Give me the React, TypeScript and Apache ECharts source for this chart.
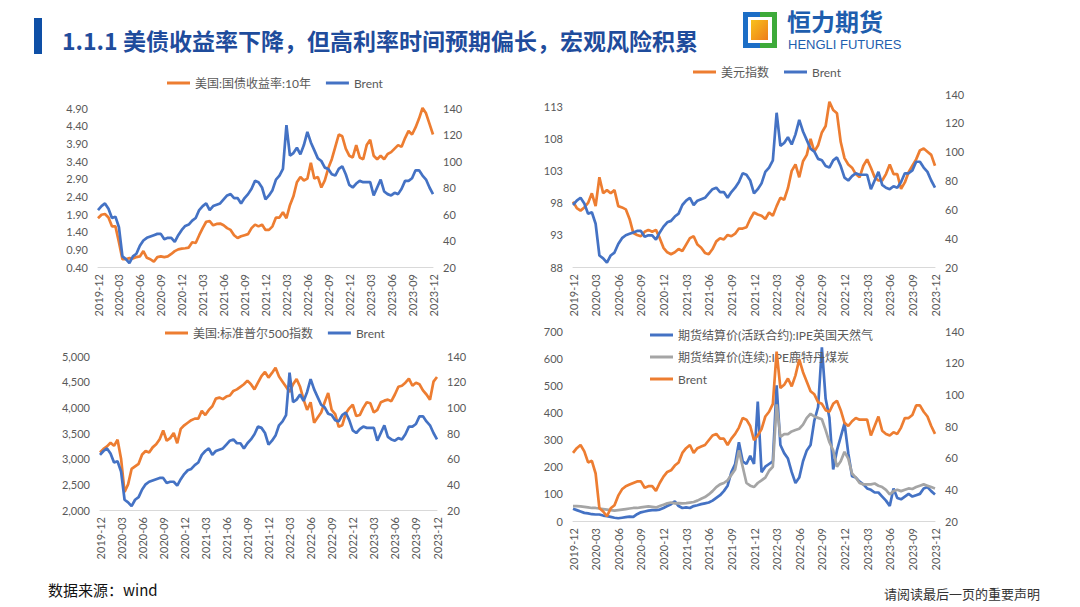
import React, { useEffect, useRef } from "react";
import * as echarts from "echarts";

// ---- categories (semi-monthly observation dates) ----
const dates: string[] = [];
for (let y = 2019; y <= 2023; y++) {
  for (let m = 1; m <= 12; m++) {
    if (y === 2019 && m < 12) continue;
    const mm = String(m).padStart(2, "0");
    dates.push(`${y}-${mm}-01`);
    if (!(y === 2023 && m === 12)) dates.push(`${y}-${mm}-16`);
  }
}

// ---- series values ----
const brent = [
  63, 66,
  68, 64, 57, 58, 50, 28, 26, 23, 28, 30, 36, 40, 42, 43, 44, 45, 45, 41, 42, 42, 39, 44, 48, 51,
  52, 55, 57, 63, 66, 68, 63, 66, 67, 68, 71, 74, 75, 72, 72, 68, 72, 75, 79, 85, 84, 80, 71, 74,
  78, 86, 89, 94, 127, 104, 106, 110, 105, 112, 122, 114, 108, 102, 100, 95, 94, 90, 89, 94, 96, 90, 82, 80,
  83, 85, 84, 84, 84, 74, 80, 86, 77, 75, 74, 76, 75, 79, 85, 85, 87, 93, 93, 89, 86, 80,
  75,
];

const us10y = [
  1.78, 1.88,
  1.9, 1.8, 1.55, 1.55, 1.1, 0.62, 0.62, 0.65, 0.64, 0.68, 0.7, 0.85, 0.66, 0.62, 0.55, 0.68, 0.7, 0.68, 0.7, 0.77, 0.85, 0.9, 0.92, 0.93,
  0.95, 1.1, 1.08, 1.3, 1.5, 1.68, 1.7, 1.58, 1.62, 1.63, 1.58, 1.5, 1.45, 1.3, 1.22, 1.27, 1.3, 1.33, 1.5, 1.6, 1.55, 1.6, 1.45, 1.45,
  1.55, 1.8, 1.8, 1.95, 1.78, 2.15, 2.4, 2.8, 2.95, 2.85, 2.9, 3.35, 2.9, 2.95, 2.65, 2.85, 3.2, 3.45, 3.8, 4.15, 4.1, 3.75, 3.55, 3.5,
  3.85, 3.5, 3.45, 3.85, 4.0, 3.55, 3.45, 3.55, 3.45, 3.6, 3.65, 3.75, 3.85, 3.8, 4.05, 4.25, 4.15, 4.35, 4.6, 4.9, 4.75, 4.45,
  4.15,
];

const dxy = [
  98.2, 97.2,
  96.8, 97.3, 98.0, 99.5, 97.5, 102.0, 99.5, 100.0, 99.5, 100.0, 97.5, 97.3, 97.0, 95.5, 93.3, 93.0, 92.8, 93.5, 93.8, 93.5, 93.8, 92.5, 91.0, 90.3,
  90.0, 90.3, 90.8, 90.5, 91.5, 92.5, 92.8, 91.5, 91.0, 90.2, 90.0, 90.8, 92.0, 92.5, 92.3, 93.0, 92.8, 93.2, 94.0, 94.0, 94.2, 95.5, 96.5, 96.2,
  96.0, 95.5, 96.5, 96.0, 97.5, 98.8, 98.5, 100.3, 103.0, 104.0, 102.0, 104.5, 105.5, 108.0, 106.0, 107.0, 109.0, 110.0, 113.8, 112.5, 112.0, 107.5, 105.0, 104.0,
  103.5, 102.5, 102.0, 103.8, 104.8, 103.5, 102.0, 101.5, 101.5, 102.5, 104.0, 102.5, 102.5, 100.2, 101.2, 102.8, 103.8, 104.8, 106.2, 106.5, 106.0, 105.5,
  103.8,
];

const spx = [
  3120, 3190,
  3240, 3310, 3250, 3370, 3000, 2350, 2500, 2800, 2850, 2900, 3080, 3150, 3120, 3220, 3280, 3380, 3550, 3350, 3400, 3500, 3300, 3580, 3650, 3700,
  3750, 3780, 3780, 3930, 3850, 3950, 4020, 4170, 4190, 4160, 4210, 4230, 4320, 4350, 4400, 4450, 4520, 4450, 4350, 4480, 4610, 4690, 4580, 4670,
  4770, 4600, 4500, 4400, 4300, 4450, 4550, 4400, 4150, 3950, 4100, 3700, 3800, 3900, 4100, 4280, 3950, 3870, 3620, 3650, 3880, 3980, 4050, 3830,
  3850, 3990, 4100, 4080, 3900, 3950, 4100, 4130, 4150, 4120, 4250, 4400, 4420, 4480, 4560, 4420, 4480, 4450, 4330, 4250, 4150, 4500,
  4590,
];

const ukGas = [
  45, 40,
  35, 30, 28, 25, 24, 24, 20, 18, 15, 12, 10, 12, 14, 16, 15, 25, 32, 35, 38, 40, 40, 42, 48, 55,
  62, 72, 55, 48, 50, 48, 55, 58, 62, 65, 68, 75, 85, 95, 110, 130, 180, 210, 290, 220, 210, 240, 210, 440,
  180, 200, 210, 220, 500, 280, 250, 230, 180, 140, 160, 220, 260, 280, 370, 420, 640, 450, 380, 190, 260, 310, 360, 250,
  165, 160, 145, 135, 120, 115, 105, 105, 90, 75, 55, 120, 85, 80, 90, 100, 90, 95, 100, 120, 125, 110,
  98,
];

const coal = [
  55, 55,
  54, 52, 50, 48, 48, 46, 44, 42, 40, 38, 40, 42, 44, 46, 48, 48, 50, 52, 54, 52, 50, 55, 60, 65,
  68, 65, 66, 65, 66, 68, 70, 75, 82, 88, 98, 110, 125, 135, 140, 150, 170, 190, 260, 200, 140, 130, 125, 140,
  150, 160, 185, 200, 430, 310, 320, 320, 330, 335, 340, 355, 380, 395, 385, 380, 375, 335, 290, 260, 200, 220, 255, 230,
  175, 160, 140, 135, 135, 135, 138, 130, 125, 115, 98, 110, 115, 110, 115, 120, 118, 125, 130, 135, 130, 125,
  120,
];

const xTickLabels = [
  "2019-12", "2020-03", "2020-06", "2020-09", "2020-12", "2021-03", "2021-06", "2021-09",
  "2021-12", "2022-03", "2022-06", "2022-09", "2022-12", "2023-03", "2023-06", "2023-09", "2023-12",
];

const NAME_UST = "美国:国债收益率:10年";
const NAME_DXY = "美元指数";
const NAME_SPX = "美国:标准普尔500指数";
const NAME_GAS = "期货结算价(活跃合约):IPE英国天然气";
const NAME_COAL = "期货结算价(连续):IPE鹿特丹煤炭";
const NAME_BRENT = "Brent";

const TITLE = "1.1.1 美债收益率下降，但高利率时间预期偏长，宏观风险积累";
const SOURCE = "数据来源：wind";
const DISCLAIMER = "请阅读最后一页的重要声明";

const ORANGE = "#ED7D31";
const BLUE = "#4472C4";
const GRAY = "#A5A5A5";
const LABEL = "#595959";
const FONT = "Lato, 'Noto Sans CJK SC', sans-serif";

function xAxis(gridIndex: number) {
  return {
    type: "category",
    gridIndex,
    data: dates,
    boundaryGap: false,
    axisLine: { show: true, lineStyle: { color: "#D9D9D9", width: 1 } },
    axisTick: { show: false },
    splitLine: { show: false },
    axisLabel: {
      rotate: 90,
      interval: (_i: number, v: string) => v.endsWith("-01") && xTickLabels.includes(v.slice(0, 7)),
      formatter: (v: string) => v.slice(0, 7),
      color: LABEL,
      fontSize: 11,
      fontFamily: FONT,
      margin: 7,
    },
  };
}

function yAxis(gridIndex: number, position: string, min: number, max: number, interval: number, formatter: (v: number) => string) {
  return {
    type: "value",
    gridIndex,
    position,
    min,
    max,
    interval,
    axisLine: { show: false },
    axisTick: { show: false },
    splitLine: { show: false },
    axisLabel: { formatter, color: LABEL, fontSize: 11, fontFamily: FONT, margin: 10 },
  };
}

function line(name: string, xi: number, yi: number, data: number[], color: string, z: number) {
  return {
    name,
    type: "line",
    xAxisIndex: xi,
    yAxisIndex: yi,
    data,
    symbol: "none",
    showSymbol: false,
    silent: true,
    z,
    lineStyle: { width: 2.7, color },
    itemStyle: { color },
  };
}

function legend(left: number, top: number, items: { name: string; color: string }[], orient = "horizontal", itemGap = 15) {
  return {
    left,
    top,
    orient,
    icon: "rect",
    itemWidth: 23,
    itemHeight: 3,
    itemGap,
    selectedMode: false,
    textStyle: { color: LABEL, fontSize: 12, fontFamily: FONT },
    data: items.map((it) => ({ name: it.name, itemStyle: { color: it.color } })),
  };
}

const intFmt = (v: number) => String(Math.round(v));
const rightFmt = (v: number) => String(Math.round(v));

export default function App() {
  const ref = useRef<HTMLDivElement>(null);

  useEffect(() => {
    if (!ref.current) return;
    const chart = echarts.init(ref.current, undefined, { renderer: "svg" });
    chart.setOption({
      animation: false,
      backgroundColor: "#ffffff",
      grid: [
        { left: 98, top: 108, width: 335, height: 159 },
        { left: 573, top: 94, width: 362, height: 173 },
        { left: 100, top: 356, width: 337, height: 154 },
        { left: 573, top: 331, width: 362, height: 190 },
      ],
      xAxis: [xAxis(0), xAxis(1), xAxis(2), xAxis(3)],
      yAxis: [
        yAxis(0, "left", 0.4, 4.9, 0.5, (v) => v.toFixed(2)),
        yAxis(0, "right", 20, 140, 20, rightFmt),
        yAxis(1, "left", 88, 115, 5, (v) => (v > 114 ? "" : intFmt(v))),
        yAxis(1, "right", 20, 140, 20, rightFmt),
        yAxis(2, "left", 2000, 5000, 500, (v) => Math.round(v).toLocaleString("en-US")),
        yAxis(2, "right", 20, 140, 20, rightFmt),
        yAxis(3, "left", 0, 700, 100, intFmt),
        yAxis(3, "right", 20, 140, 20, rightFmt),
      ],
      legend: [
        legend(162, 72, [
          { name: NAME_UST, color: ORANGE },
          { name: NAME_BRENT, color: BLUE },
        ]),
        legend(688, 61, [
          { name: NAME_DXY, color: ORANGE },
          { name: NAME_BRENT, color: BLUE },
        ]),
        legend(160, 322, [
          { name: NAME_SPX, color: ORANGE },
          { name: NAME_BRENT, color: BLUE },
        ]),
        legend(
          645,
          324,
          [
            { name: NAME_GAS, color: BLUE },
            { name: NAME_COAL, color: GRAY },
            { name: NAME_BRENT, color: ORANGE },
          ],
          "vertical",
          10
        ),
      ],
      series: [
        line(NAME_UST, 0, 0, us10y, ORANGE, 2),
        line(NAME_BRENT, 0, 1, brent, BLUE, 3),
        line(NAME_DXY, 1, 2, dxy, ORANGE, 2),
        line(NAME_BRENT, 1, 3, brent, BLUE, 3),
        line(NAME_SPX, 2, 4, spx, ORANGE, 2),
        line(NAME_BRENT, 2, 5, brent, BLUE, 3),
        line(NAME_GAS, 3, 6, ukGas, BLUE, 2),
        line(NAME_COAL, 3, 6, coal, GRAY, 3),
        line(NAME_BRENT, 3, 7, brent, ORANGE, 4),
      ],
      graphic: [
        { type: "rect", shape: { x: 34, y: 18, width: 8, height: 36 }, style: { fill: "#0E4FA6" } },
        {
          type: "text",
          style: {
            text: TITLE,
            x: 62,
            y: 40,
            fill: "#1F4C9C",
            font: "bold 23px 'Noto Sans CJK SC', sans-serif",
            align: "left",
            verticalAlign: "middle",
          },
        },
        { type: "rect", shape: { x: 743, y: 12, width: 17, height: 36 }, style: { fill: "#1C6EC6" } },
        { type: "rect", shape: { x: 760, y: 12, width: 17, height: 36 }, style: { fill: "#3DAA3A" } },
        { type: "rect", shape: { x: 748, y: 17, width: 24, height: 26 }, style: { fill: "#ffffff" } },
        {
          type: "rect",
          shape: { x: 751, y: 20, width: 17, height: 20 },
          style: {
            fill: new echarts.graphic.LinearGradient(0, 0, 1, 1, [
              { offset: 0, color: "#F8C21C" },
              { offset: 1, color: "#EE7D1A" },
            ]),
          },
        },
        {
          type: "text",
          style: {
            text: "恒力期货",
            x: 787,
            y: 20,
            fill: "#1E5EAE",
            font: "bold 24px 'Noto Sans CJK SC', sans-serif",
            align: "left",
            verticalAlign: "middle",
          },
        },
        {
          type: "text",
          style: {
            text: "HENGLI FUTURES",
            x: 788,
            y: 44,
            fill: "#1E5EAE",
            font: "13px 'Liberation Sans', sans-serif",
            align: "left",
            verticalAlign: "middle",
          },
        },
        {
          type: "text",
          style: {
            text: SOURCE,
            x: 48,
            y: 589,
            fill: "#111111",
            font: "15px 'Noto Sans CJK SC', sans-serif",
            align: "left",
            verticalAlign: "middle",
          },
        },
        {
          type: "text",
          style: {
            text: DISCLAIMER,
            x: 1040,
            y: 593,
            fill: "#333333",
            font: "13px 'Noto Sans CJK SC', sans-serif",
            align: "right",
            verticalAlign: "middle",
          },
        },
      ],
    });
    return () => chart.dispose();
  }, []);

  return (
    <div
      ref={ref}
      style={{ position: "absolute", left: 0, top: 0, width: 1080, height: 607, background: "#fff" }}
    />
  );
}
